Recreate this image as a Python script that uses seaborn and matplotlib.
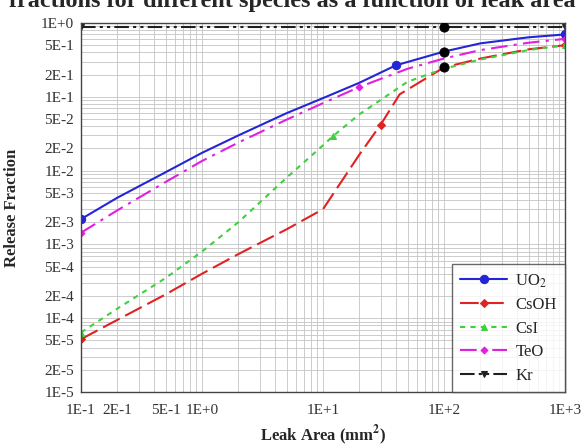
import matplotlib
matplotlib.use("Agg")
import numpy as np
import pandas as pd
import matplotlib.pyplot as plt
import seaborn as sns
from matplotlib.ticker import FixedLocator, FixedFormatter, LogLocator, NullFormatter

# Leak area (mm2) and release fraction
uo2_area = [0.1, 0.2, 0.5, 1, 2, 5, 10, 20, 40, 100, 200, 500, 1000]
uo2_frac = [2.2e-3, 4.3e-3, 9.5e-3, 1.74e-2, 3.0e-2, 6.0e-2, 9.6e-2, 0.155, 0.267, 0.41, 0.53, 0.64, 0.70]
uo2_marks = [0, 8, 12]

csoh_area = [0.1, 0.2, 0.5, 1, 2, 5, 10, 20, 30, 43, 100, 200, 500, 1000]
csoh_frac = [5.2e-5, 9.5e-5, 2.1e-4, 4.0e-4, 7.4e-4, 1.6e-3, 3.0e-3, 1.65e-2, 4.2e-2, 0.108, 0.25, 0.33, 0.44, 0.50]
csoh_marks = [0, 8, 13]

csi_area = [0.1, 0.2, 0.5, 1, 2, 5, 10, 12, 20, 50, 100, 200, 500, 1000]
csi_frac = [6.4e-5, 1.35e-4, 3.5e-4, 8.0e-4, 2.0e-3, 8.0e-3, 2.2e-2, 2.9e-2, 5.8e-2, 0.16, 0.24, 0.32, 0.43, 0.50]
csi_marks = [0, 7, 13]

teo_area = [0.1, 0.2, 0.5, 1, 2, 5, 10, 20, 50, 100, 200, 500, 1000]
teo_frac = [1.44e-3, 2.9e-3, 7.0e-3, 1.35e-2, 2.4e-2, 4.9e-2, 8.2e-2, 0.136, 0.24, 0.33, 0.43, 0.54, 0.61]
teo_marks = [0, 7, 12]

kr_area = [0.1, 1000]
kr_frac = [0.87, 0.87]
kr_marks = [0, 1]

# reference points at 100 mm2
ref_area = [100, 100, 100]
ref_frac = [0.87, 0.41, 0.25]

y_ticks = [1e-5, 2e-5, 5e-5, 1e-4, 2e-4, 5e-4, 1e-3, 2e-3, 5e-3,
           1e-2, 2e-2, 5e-2, 1e-1, 2e-1, 5e-1, 1.0]
y_labels = ["1E-5", "2E-5", "5E-5", "1E-4", "2E-4", "5E-4", "1E-3", "2E-3", "5E-3",
            "1E-2", "2E-2", "5E-2", "1E-1", "2E-1", "5E-1", "1E+0"]
x_ticks = [0.1, 0.2, 0.5, 1, 10, 100, 1000]
x_labels = ["1E-1", "2E-1", "5E-1", "1E+0", "1E+1", "1E+2", "1E+3"]

sns.set_style("white")
plt.rcParams['font.family'] = ['Liberation Serif', 'DejaVu Serif']
plt.rcParams['mathtext.fontset'] = 'stix'

fig = plt.figure(figsize=(5.84, 4.46), dpi=100)
ax = fig.add_axes([81 / 584, 1 - 392 / 446, 484 / 584, 369 / 446])
ax.set_xscale('log')
ax.set_yscale('log')

series = [
    ("UO$_2$", uo2_area, uo2_frac, uo2_marks, "#2525d8", "o", 6, None),
    ("CsOH", csoh_area, csoh_frac, csoh_marks, "#e02222", "D", 4, (9, 3)),
    ("CsI", csi_area, csi_frac, csi_marks, "#3fd03f", "^", 5, (2.5, 2.5)),
    ("TeO", teo_area, teo_frac, teo_marks, "#e020e0", "D", 3.5, (8, 3, 1.5, 3)),
    ("Kr", kr_area, kr_frac, kr_marks, "#202020", "v", 5, (7, 2, 1.5, 2, 1.5, 2)),
]

handles = []
for name, xs, ys, marks, col, mk, ms, dash in series:
    df = pd.DataFrame({"area": xs, "frac": ys})
    sns.lineplot(data=df, x="area", y="frac", ax=ax, color=col, lw=1.5,
                 marker=mk, markersize=ms, markevery=marks, markeredgecolor=col,
                 errorbar=None, label=name)
    line = ax.lines[-1]
    if dash is not None:
        line.set_dashes(dash)
    handles.append(line)

sns.scatterplot(x=ref_area, y=ref_frac, ax=ax, color="black", s=45,
                edgecolor="black", zorder=5, legend=False)

ax.set_xlim(0.1, 1000)
ax.set_ylim(1e-5, 1.0)

ax.yaxis.set_major_locator(FixedLocator(y_ticks))
ax.yaxis.set_major_formatter(FixedFormatter(y_labels))
ax.yaxis.set_minor_locator(LogLocator(base=10, subs=np.arange(2, 10), numticks=20))
ax.yaxis.set_minor_formatter(NullFormatter())
ax.xaxis.set_major_locator(FixedLocator(x_ticks))
ax.xaxis.set_major_formatter(FixedFormatter(x_labels))
ax.xaxis.set_minor_locator(LogLocator(base=10, subs=np.arange(2, 10), numticks=20))
ax.xaxis.set_minor_formatter(NullFormatter())

ax.grid(True, which='both', color='#c4c4c4', lw=0.6)
ax.set_axisbelow(True)
ax.tick_params(which='both', length=0, labelsize=11, colors='#333333')
ax.tick_params(axis='x', pad=9)
ax.tick_params(axis='y', pad=5)
for sp in ax.spines.values():
    sp.set_color('#444444')
    sp.set_linewidth(1.0)

ax.set_xlabel("Leak Area (mm$^{\\mathbf{2}}$)", fontsize=12, fontweight='bold')
ax.set_ylabel("Release Fraction", fontsize=12, fontweight='bold')
ax.yaxis.set_label_coords(-0.126, 0.5)

leg = ax.legend(handles=handles, labels=[s[0] for s in series], loc='lower right',
                fontsize=12, frameon=True, fancybox=False, borderaxespad=0,
                handlelength=2.8, handletextpad=0.5, labelspacing=0.45, borderpad=0.5)
leg.get_frame().set_edgecolor('#444444')
leg.get_frame().set_linewidth(1.0)

# caption line of the source figure, cut at the top edge as in the original
fig.text(0.5, 1 - 7 / 446, "fractions for different species as a function of leak area",
         ha='center', va='baseline', fontsize=17.5, fontweight='bold')

fig.savefig("out.png", dpi=100)
